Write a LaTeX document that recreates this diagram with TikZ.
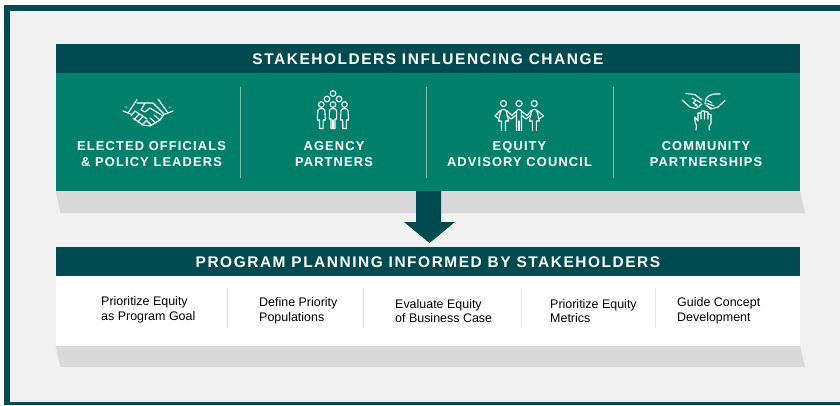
\documentclass[tikz,border=0pt]{standalone}
\usepackage{fontspec}
\setmainfont{Liberation Sans}
\newfontfamily\capsfont[LetterSpace=9,BoldFont={Liberation Sans Bold}]{Liberation Sans}
\newfontfamily\headfont[LetterSpace=10,BoldFont={Liberation Sans Bold}]{Liberation Sans}
\definecolor{dteal}{HTML}{004B50}
\definecolor{dgreen}{HTML}{00806A}
\definecolor{bgray}{HTML}{F1F1F1}
\definecolor{sgray}{HTML}{D9D9D9}
\definecolor{vline}{HTML}{7FBBAF}
\definecolor{wline}{HTML}{E6E6E6}
\tikzset{
 x=1bp,y=-1bp,
 bar/.style={fill=dteal,draw=none,inner sep=0pt,minimum width=744.5bp,minimum height=29bp,text=white,font=\headfont\bfseries\fontsize{15.5}{16}\selectfont},
 band/.style={draw=none,inner sep=0pt,minimum width=744.5bp},
 captext/.style={text=white,align=center,inner sep=0pt,font=\capsfont\bfseries\fontsize{12.9}{15.5}\selectfont},
 task/.style={text=black,align=left,inner sep=0pt,font=\fontsize{12.5}{14.6}\selectfont},
 shadowbox/.style={fill=sgray,draw=none},
 icon/.style={draw=white,line width=1.1bp,line join=round,line cap=round,fill=none},
 dividerA/.style={draw=vline,line width=0.8bp},
 dividerB/.style={draw=wline,line width=0.8bp},
}
\begin{document}
\begin{tikzpicture}
\useasboundingbox (0,0) rectangle (840,405);
\fill[white] (0,0) rectangle (840,405);
\fill[dteal] (4,5) rectangle (840,405);
\fill[bgray] (10,11) rectangle (840,402);
% shadows
\fill[shadowbox] (55.5,191) -- (800,191) -- (805,213) -- (60.5,213) -- cycle;
\fill[shadowbox] (55.5,346) -- (800,346) -- (805,367) -- (60.5,367) -- cycle;
% bars
\node[band,fill=dgreen,minimum height=118bp,anchor=north west] (green) at (55.5,73) {};
\node[bar,anchor=north west] (top) at (55.5,44) {\raisebox{-0.6bp}{STAKEHOLDERS INFLUENCING CHANGE}};
\node[band,fill=white,minimum height=70bp,anchor=north west] (white) at (55.5,276) {};
\node[bar,anchor=north west] (low) at (55.5,247) {\raisebox{-0.6bp}{PROGRAM PLANNING INFORMED BY STAKEHOLDERS}};
% arrow
\fill[dteal] (416,191) -- (441,191) -- (441,222) -- (455,222) -- (429.5,243) -- (404,222) -- (416,222) -- cycle;
% dividers
\foreach \x in {240.5,426.5,613.5} \draw[dividerA] (\x,87) -- (\x,178);
\foreach \x in {227.5,363.5,521.5,655.5} \draw[dividerB] (\x,288) -- (\x,328);
% captions
\node[captext] (c1) at (151.5,154) {ELECTED OFFICIALS\\\& POLICY LEADERS};
\node[captext] (c2) at (334,154) {AGENCY\\PARTNERS};
\node[captext] (c3) at (519.5,154) {EQUITY\\ADVISORY COUNCIL};
\node[captext] (c4) at (706,154) {COMMUNITY\\PARTNERSHIPS};
% tasks
\node[task,anchor=west] (t1) at (101,309.5) {Prioritize Equity\\as Program Goal};
\node[task,anchor=west] (t2) at (259,311) {Define Priority\\Populations};
\node[task,anchor=west] (t3) at (395,311) {Evaluate Equity\\of Business Case};
\node[task,anchor=west] (t4) at (550,311) {Prioritize Equity\\Metrics};
\node[task,anchor=west] (t5) at (677,311) {Guide Concept\\Development};
\begin{scope}[icon]
% icon: handshake
\draw (123,111) -- (132,114.5);
\draw (128,113) -- (137,99.5);
\draw (173,111) -- (164,114.5);
\draw (168,113) -- (158,99);
\draw (137,103) -- (145,103) -- (153,103) -- (158,108) -- (164,114) -- (160,120) -- (150,126) -- (143,125) -- (133,118);
\draw (145,103) -- (141,110) -- (145,112) -- (150,108) -- (163,116);
\draw (160,120) -- (154,115);
\draw (156,123) -- (150,118);
\draw (151,125) -- (147,121);
\draw (135,111) -- (131,116);
\draw (139,114) -- (134,120);
\draw (143,116) -- (138,122);
\draw (147,120) -- (142,125);
\draw (135,111) -- (147,119);
\draw (126,107) -- (126.5,107.5);
\draw (170,107) -- (169.5,107.5);
% agency people
\foreach \x/\y in {321.3/104.5,333/104.5,344.5/104.5,327/99,339/99,333/93.5} \draw (\x,\y) circle (2.8);
\foreach \x in {321.3,344.5}{
 \draw (\x-1.8,128.5) -- (\x-1.8,120) -- (\x-4,120) -- (\x-3.5,110.5) .. controls (\x-3,107.8) and (\x+3,107.8) .. (\x+3.5,110.5) -- (\x+4,120) -- (\x+1.8,120) -- (\x+1.8,128.5) -- cycle;
}
\draw (331,128.5) -- (331,119) -- (329.3,119) -- (329.5,110.5) .. controls (330,107.8) and (336,107.8) .. (336.5,110.5) -- (336.7,119) -- (335,119) -- (335,128.5) -- cycle;
\draw (333,120) -- (333,128.5);
% equity people
\foreach \x in {503.5,534.3}{
 \draw (\x,103.5) circle (3);
 \draw (\x-2,130.5) -- (\x-2,121) -- (\x-5,121) -- (\x-3,112) .. controls (\x-2.5,108.5) and (\x+2.5,108.5) .. (\x+3,112) -- (\x+5,121) -- (\x+2,121) -- (\x+2,130.5);
}
\draw (519,103.5) circle (3);
\draw (516.5,130.5) -- (516.5,112) .. controls (516.5,108.5) and (521.5,108.5) .. (521.5,112) -- (521.5,130.5);
\draw (519,121) -- (519,130.5);
\draw (500.5,110.5) -- (495,116) -- (498.5,118.5);
\draw (506.5,110.5) -- (512,115.5) -- (516.5,111);
\draw (506.8,115) -- (511,119) -- (516.5,115);
\draw (521.5,111) -- (527,115.5) -- (531.3,110.5);
\draw (521.5,115) -- (526,119) -- (531,115);
\draw (537.3,110.5) -- (543.5,116) -- (539.5,118.5);
% community hands
\draw (686,93.5) -- (691,94) .. controls (694,94) and (697,95) .. (698,97) -- (702,100);
\draw (682,100) -- (690,107) -- (696,108.5) -- (702,104);
\draw (692,98) -- (696,100) -- (693,103) -- (697,105);
\draw (697,100.5) -- (701,103);
\draw (695,105) -- (699,107);
\draw (720,94) -- (714,94) .. controls (711,94) and (708,96) .. (706,99) -- (705,104);
\draw (725,100.5) -- (718,107) -- (711,109) -- (706,105);
\draw (707,100) -- (712,103);
\draw (707,103.5) -- (714,106);
\draw (708,106.5) -- (712,108.5);
\draw (696,130) -- (696.5,126) -- (695,121) -- (695,117) -- (698,121) -- (698,113) -- (701,113) -- (701,119);
\draw (701,113) -- (701.5,111) -- (704.5,111) -- (704.5,119);
\draw (704.5,111.5) -- (708,112) -- (708,119);
\draw (708,114) -- (711,114.5) -- (711,123) -- (709,127) -- (709.5,130);
\end{scope}
\end{tikzpicture}
\end{document}
